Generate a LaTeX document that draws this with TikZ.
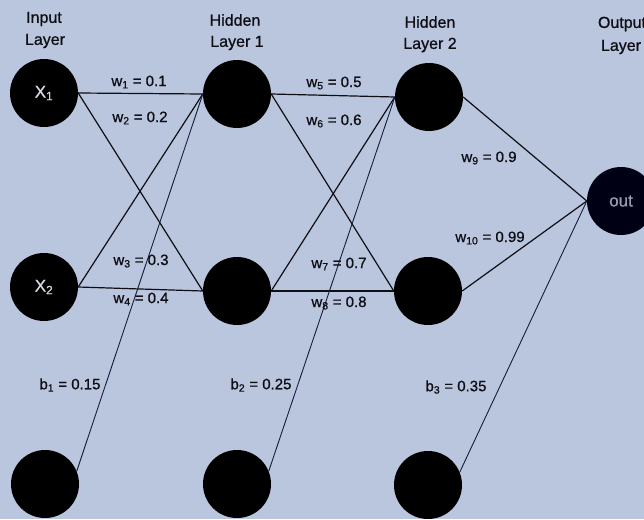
\documentclass[tikz,border=0pt]{standalone}
\usepackage{fontspec}
\setmainfont{Liberation Sans}[BoldFont={Liberation Sans},BoldFeatures={FakeBold=0.8}]
\definecolor{bgc}{RGB}{186,197,222}
\definecolor{ink}{RGB}{14,14,20}
\definecolor{navy}{RGB}{22,28,60}
\definecolor{nodetext}{RGB}{215,218,228}
\definecolor{outtext}{RGB}{150,158,178}
\begin{document}
\begin{tikzpicture}[x=1pt,y=-1pt,
  neuron/.style={circle,fill=black,draw=none,minimum size=68pt,inner sep=0pt,
    text=nodetext,font=\fontsize{17}{17}\selectfont\bfseries},
  biasnode/.style={circle,fill=black,draw=none,minimum size=68pt,inner sep=0pt},
  conn/.style={draw=ink,line width=1.2pt},
  biasconn/.style={draw=navy,line width=0.9pt},
  wlabel/.style={text=ink,font=\fontsize{15}{15}\selectfont\bfseries,inner sep=0pt},
  head/.style={text=ink,font=\fontsize{16}{16}\selectfont\bfseries,inner sep=0pt,align=center}]
\useasboundingbox (0,0) rectangle (644,519);
\clip (0,0) rectangle (644,519);
\fill[bgc] (0,0) rectangle (644,519);

% headers
\node[head] (hin1) at (44,19) {Input};
\node[head] (hin2) at (45,41) {Layer};
\node[head] (hh11) at (235,20) {Hidden};
\node[head] (hh12) at (237,43) {Layer 1};
\node[head] (hh21) at (430,22) {Hidden};
\node[head] (hh22) at (430,45) {Layer 2};
\node[head] (ho1) at (622,24) {Output};
\node[head] (ho2) at (621,47) {Layer};

% neurons
\node[neuron] (x1) at (44,93) {X\textsubscript{1}};
\node[neuron] (x2) at (44,287) {X\textsubscript{2}};
\node[neuron] (h11) at (237,94) {};
\node[neuron] (h12) at (237,291) {};
\node[neuron] (h21) at (429,97) {};
\node[neuron] (h22) at (428,291) {};
\node[neuron,fill=black!92!blue,text=outtext] (out) at (621,201) {out};
\node[biasnode] (b1) at (45,484) {};
\node[biasnode] (b2) at (237,484) {};
\node[biasnode] (b3) at (428,485) {};

% layer 1 connections
\draw[conn] (x1.east) -- (h11.west);
\draw[conn] (x1.east) -- (h12.west);
\draw[conn] (x2.east) -- (h11.west);
\draw[conn] (x2.east) -- (h12.west);
\draw[biasconn] (b1.22) -- (h11.west);

% layer 2 connections
\draw[conn] (h11.east) -- (h21.west);
\draw[conn] (h11.east) -- (h22.west);
\draw[conn] (h12.east) -- (h21.west);
\draw[conn] (h12.east) -- (h22.west);
\draw[biasconn] (b2.22) -- (h21.west);

% output connections
\draw[conn] (h21.east) -- (out.west);
\draw[conn] (h22.east) -- (out.west);
\draw[biasconn] (b3.22) -- (out.west);

% labels
\node[wlabel] (lw1) at (139,82) {w\textsubscript{1} = 0.1};
\node[wlabel] (lw2) at (140,118) {w\textsubscript{2} = 0.2};
\node[wlabel] (lw3) at (141,261) {w\textsubscript{3} = 0.3};
\node[wlabel] (lw4) at (141,299) {w\textsubscript{4} = 0.4};
\node[wlabel] (lw5) at (334,83) {w\textsubscript{5} = 0.5};
\node[wlabel] (lw6) at (334,121) {w\textsubscript{6} = 0.6};
\node[wlabel] (lw7) at (339,264) {w\textsubscript{7} = 0.7};
\node[wlabel] (lw8) at (339,303) {w\textsubscript{8} = 0.8};
\node[wlabel] (lw9) at (489,158) {w\textsubscript{9} = 0.9};
\node[wlabel] (lw10) at (490,238) {w\textsubscript{10} = 0.99};
\node[wlabel] (lb1) at (70,385) {b\textsubscript{1} = 0.15};
\node[wlabel] (lb2) at (261,385) {b\textsubscript{2} = 0.25};
\node[wlabel] (lb3) at (456,387) {b\textsubscript{3} = 0.35};
\end{tikzpicture}
\end{document}
